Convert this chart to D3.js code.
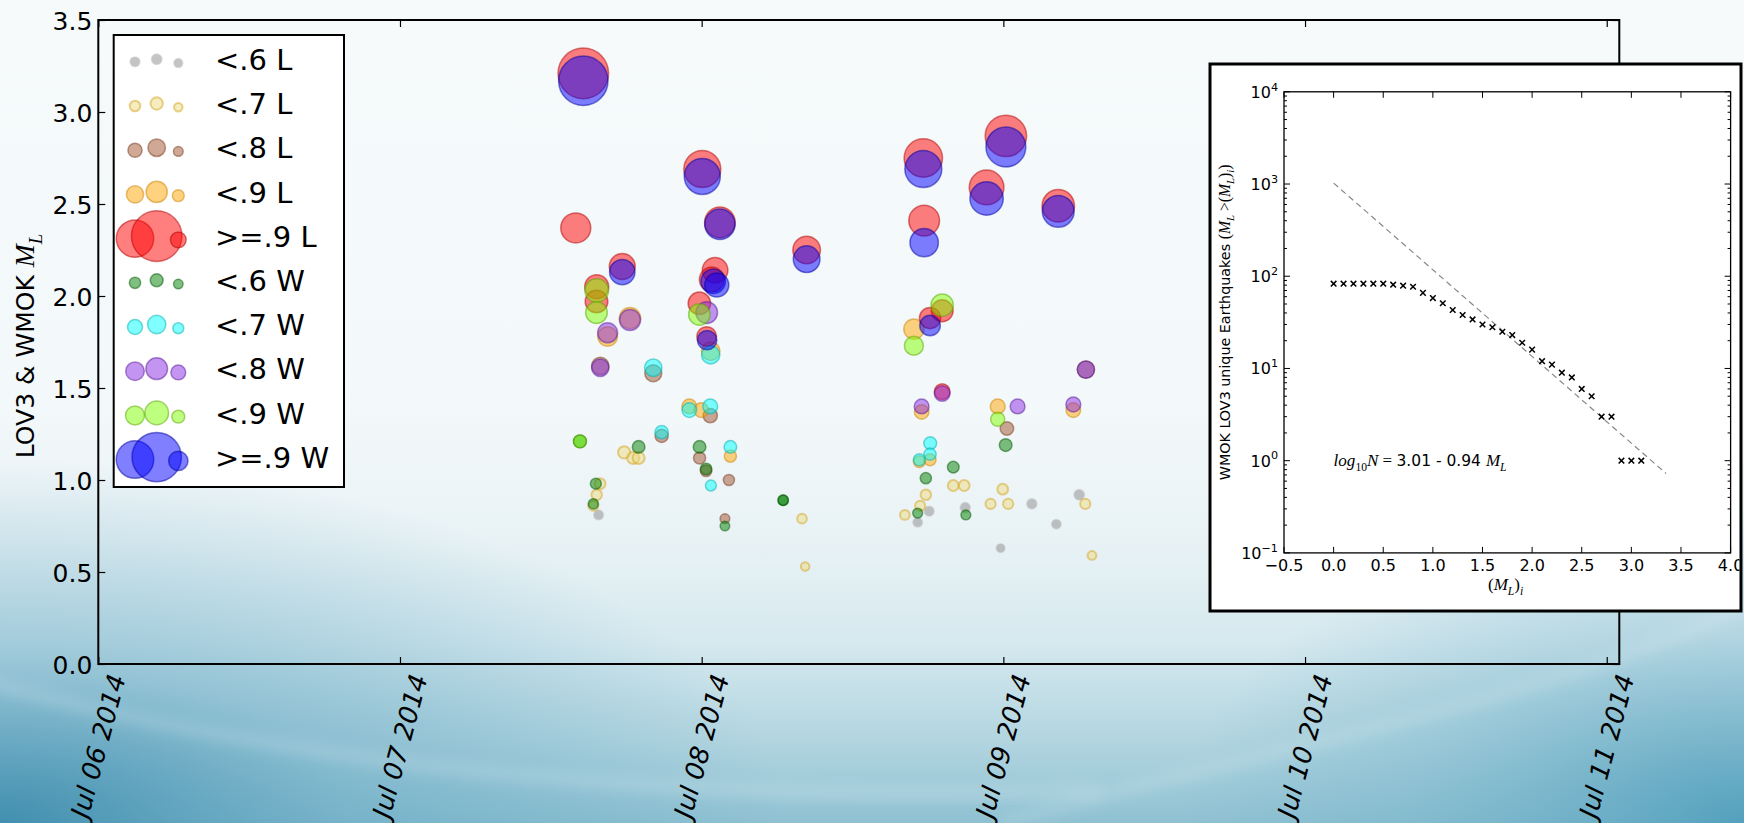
<!DOCTYPE html>
<html><head><meta charset="utf-8">
<script src="https://cdn.jsdelivr.net/npm/d3@7"></script>
<style>html,body{margin:0;padding:0;overflow:hidden;background:#f6fafb} svg{display:block}</style>
</head><body>
<svg id="c" width="1744" height="823"></svg>
<script>
// ---------------- DATA ----------------
const seriesLabels = ["<.6 L","<.7 L","<.8 L","<.9 L",">=.9 L","<.6 W","<.7 W","<.8 W","<.9 W",">=.9 W"];
const xTickDays = ["2014-07-06 00:00","2014-07-07 00:00","2014-07-08 00:00","2014-07-09 00:00","2014-07-10 00:00","2014-07-11 00:00"];
const yTicks = [0,0.5,1,1.5,2,2.5,3,3.5];

const grayL = [
 ["2014-07-07 15:48",0.81],["2014-07-08 18:06",0.83],["2014-07-08 17:11",0.77],["2014-07-08 20:58",0.85],
 ["2014-07-09 02:16",0.87],["2014-07-09 06:02",0.92],["2014-07-09 04:13",0.76],["2014-07-08 23:47",0.63]];
const yellowL = [
 ["2014-07-07 17:50",1.15],["2014-07-07 18:33",1.12],["2014-07-07 18:59",1.12],["2014-07-07 15:55",0.98],
 ["2014-07-07 15:39",0.92],["2014-07-07 15:23",0.86],["2014-07-08 07:59",0.79],["2014-07-08 08:14",0.53],
 ["2014-07-08 17:50",0.92],["2014-07-08 20:01",0.97],["2014-07-08 20:53",0.97],["2014-07-08 23:57",0.95],
 ["2014-07-08 17:23",0.86],["2014-07-08 16:10",0.81],["2014-07-08 22:59",0.87],["2014-07-09 00:23",0.87],
 ["2014-07-09 06:31",0.87],["2014-07-09 07:03",0.59]];
const brownL = [
 ["2014-07-07 15:56",1.62],["2014-07-07 20:09",1.58],["2014-07-08 00:41",1.35],["2014-07-07 20:49",1.24],
 ["2014-07-07 23:50",1.12],["2014-07-08 00:21",1.05],["2014-07-08 02:10",1.00],["2014-07-08 01:51",0.79],
 ["2014-07-09 00:17",1.28],["2014-07-09 06:34",1.60]];
const orangeL = [
 ["2014-07-07 18:18",1.88],["2014-07-07 16:31",1.78],["2014-07-08 00:43",1.70],["2014-07-07 23:01",1.40],
 ["2014-07-07 23:58",1.38],["2014-07-08 02:17",1.13],["2014-07-08 16:53",1.82],["2014-07-08 17:30",1.37],
 ["2014-07-08 23:33",1.40],["2014-07-09 05:34",1.38],["2014-07-08 17:19",1.10],["2014-07-08 18:10",1.11]];
const redL = [
 ["2014-07-07 14:35",3.21],["2014-07-08 00:03",2.69],["2014-07-07 13:59",2.37],["2014-07-08 01:27",2.40],
 ["2014-07-08 08:21",2.25],["2014-07-07 17:41",2.16],["2014-07-08 01:04",2.14],["2014-07-08 00:48",2.09],
 ["2014-07-07 15:39",2.05],["2014-07-07 15:38",1.97],["2014-07-07 23:49",1.96],["2014-07-08 00:24",1.78],
 ["2014-07-08 17:38",2.75],["2014-07-09 00:12",2.87],["2014-07-08 22:40",2.59],["2014-07-09 04:22",2.49],
 ["2014-07-08 17:42",2.41],["2014-07-08 19:08",1.92],["2014-07-08 18:10",1.88],["2014-07-08 19:08",1.48]];
const greenW = [
 ["2014-07-07 18:59",1.18],["2014-07-07 23:50",1.18],["2014-07-08 00:21",1.06],["2014-07-07 15:35",0.98],
 ["2014-07-07 15:23",0.87],["2014-07-08 06:29",0.89],["2014-07-08 06:29",0.89],["2014-07-08 01:51",0.75],
 ["2014-07-07 14:19",1.21],["2014-07-09 00:11",1.19],["2014-07-08 20:01",1.07],["2014-07-08 17:50",1.01],
 ["2014-07-08 17:11",0.82],["2014-07-08 21:01",0.81]];
const cyanW = [
 ["2014-07-08 00:43",1.68],["2014-07-07 20:09",1.61],["2014-07-07 23:01",1.38],["2014-07-08 00:41",1.40],
 ["2014-07-07 20:49",1.26],["2014-07-08 02:17",1.18],["2014-07-08 00:44",0.97],["2014-07-08 18:11",1.20],
 ["2014-07-08 17:19",1.11],["2014-07-08 18:10",1.14]];
const purpleW = [
 ["2014-07-07 18:18",1.87],["2014-07-07 16:31",1.80],["2014-07-08 00:24",1.91],["2014-07-07 15:56",1.61],
 ["2014-07-08 19:08",1.47],["2014-07-08 17:30",1.40],["2014-07-09 01:08",1.40],["2014-07-09 06:34",1.60],
 ["2014-07-09 05:34",1.41]];
const limeW = [
 ["2014-07-07 15:39",2.03],["2014-07-07 15:38",1.91],["2014-07-07 23:49",1.90],["2014-07-07 14:19",1.21],
 ["2014-07-08 19:08",1.95],["2014-07-08 16:53",1.73],["2014-07-08 23:33",1.33]];
const blueW = [
 ["2014-07-07 14:35",3.17],["2014-07-08 00:03",2.65],["2014-07-08 01:27",2.39],["2014-07-08 08:21",2.20],
 ["2014-07-07 17:41",2.13],["2014-07-08 00:55",2.08],["2014-07-08 01:12",2.06],["2014-07-08 00:26",1.76],
 ["2014-07-08 17:38",2.69],["2014-07-09 00:12",2.81],["2014-07-08 22:40",2.53],["2014-07-09 04:22",2.46],
 ["2014-07-08 17:42",2.29],["2014-07-08 18:10",1.84]];

// inset: cumulative counts
const insetMags = [0.0,0.1,0.2,0.3,0.4,0.5,0.6,0.7,0.8,0.9,1.0,1.1,1.2,1.3,1.4,1.5,1.6,1.7,1.8,1.9,2.0,2.1,2.2,2.3,2.4,2.5,2.6,2.7,2.8,2.9,3.0,3.1];
const insetCounts = [83,83,83,83,83,83,81,79,77,66,58,51,43,38,34,30,28,25,23,19,16,12,11,9,8,6,5,3,3,1,1,1];
const fitIntercept = 3.01, fitSlope = -0.94, fitRange = [0, 3.35];
const insetXTicks = [-0.5,0,0.5,1,1.5,2,2.5,3,3.5,4];
const insetYExps = [-1,0,1,2,3,4];

// ---------------- STYLE ----------------
const seriesData = [grayL, yellowL, brownL, orangeL, redL, greenW, cyanW, purpleW, limeW, blueW];
const seriesFill = ["#8a8a8a","#EBDB81","#A0522D","#FFA500","#FF0000","#008000","#00FFFF","#8A2BE2","#7FFF00","#0000FF"];
const seriesStroke = ["#c8c8c8","#D7A320","#7a3b1f","#cc8400","#b00000","#005a00","#00b0b0","#5a1a99","#5aa800","#0000a0"];

const svg = d3.select("#c");
const W = 1744, H = 823;
const parseT = d3.timeParse("%Y-%m-%d %H:%M");
const SANS = "DejaVu Sans", SERIF = "Liberation Serif";

// ---------------- BACKGROUND ----------------
const defs = svg.append("defs");
const lg = defs.append("linearGradient").attr("id","bg").attr("x1",0).attr("y1",0).attr("x2",0).attr("y2",1);
[[0,"#f6fafb"],[0.5,"#f3f8fa"],[0.66,"#e8f2f5"],[0.78,"#d6e9ef"],[0.9,"#b2d5e0"],[1,"#8fc1d2"]]
 .forEach(([o,c]) => lg.append("stop").attr("offset",o).attr("stop-color",c));
const rg1 = defs.append("radialGradient").attr("id","bl").attr("cx",0).attr("cy",1).attr("r",0.9)
  .attr("gradientTransform","scale(0.5,1)");
rg1.append("stop").attr("offset",0).attr("stop-color","#3d8cad").attr("stop-opacity",0.95);
rg1.append("stop").attr("offset",0.45).attr("stop-color","#5aa2bf").attr("stop-opacity",0.45);
rg1.append("stop").attr("offset",1).attr("stop-color","#5aa2bf").attr("stop-opacity",0);
const rg2 = defs.append("radialGradient").attr("id","br").attr("cx",1).attr("cy",1).attr("r",0.6);
rg2.append("stop").attr("offset",0).attr("stop-color","#4d9dbb").attr("stop-opacity",0.9);
rg2.append("stop").attr("offset",0.6).attr("stop-color","#6fb0c8").attr("stop-opacity",0.35);
rg2.append("stop").attr("offset",1).attr("stop-color","#6fb0c8").attr("stop-opacity",0);
defs.append("filter").attr("id","blur").append("feGaussianBlur").attr("stdDeviation",7);

svg.append("rect").attr("width",W).attr("height",H).attr("fill","url(#bg)");
svg.append("rect").attr("y",420).attr("width",W).attr("height",H-420).attr("fill","url(#bl)");
svg.append("rect").attr("x",800).attr("y",300).attr("width",W-800).attr("height",H-300).attr("fill","url(#br)");
svg.append("path").attr("d","M-20,680 C300,770 700,805 1100,790")
  .attr("fill","none").attr("stroke","#ffffff").attr("stroke-opacity",0.18).attr("stroke-width",12).attr("filter","url(#blur)");
svg.append("path").attr("d","M1000,823 C1300,740 1550,700 1760,600")
  .attr("fill","none").attr("stroke","#ffffff").attr("stroke-opacity",0.18).attr("stroke-width",10).attr("filter","url(#blur)");

// ---------------- MAIN SCALES ----------------
const M = {left:98.3, right:1619.3, top:20, bottom:664};
const x = d3.scaleTime().domain([parseT("2014-07-06 00:00"), parseT("2014-07-11 01:00")]).range([M.left, M.right]);
const y = d3.scaleLinear().domain([0,3.5]).range([M.bottom, M.top]);
const r = d3.scalePow().exponent(2.15).domain([0,3.5]).range([3.8, 3.8 + 1.75*Math.pow(3.5,2.15)]);

// ---------------- POINTS ----------------
const gPts = svg.append("g");
seriesData.forEach((data, i) => {
  gPts.append("g").selectAll("circle").data(data).join("circle")
    .attr("cx", d => x(parseT(d[0]))).attr("cy", d => y(d[1])).attr("r", d => r(d[1]))
    .attr("fill", seriesFill[i]).attr("fill-opacity", 0.5)
    .attr("stroke", seriesStroke[i]).attr("stroke-opacity", 0.5).attr("stroke-width", i===1 ? 2 : 1.5);
});

// ---------------- AXES ----------------
const tickDates = xTickDays.map(parseT);
const axB = svg.append("g").attr("transform",`translate(0,${M.bottom})`)
  .call(d3.axisBottom(x).tickValues(tickDates).tickSizeInner(-7).tickSizeOuter(0).tickFormat(""));
const axT = svg.append("g").attr("transform",`translate(0,${M.top})`)
  .call(d3.axisTop(x).tickValues(tickDates).tickSizeInner(-7).tickSizeOuter(0).tickFormat(""));
const axL = svg.append("g").attr("transform",`translate(${M.left},0)`)
  .call(d3.axisLeft(y).tickValues(yTicks).tickSizeInner(-7).tickSizeOuter(0).tickPadding(6).tickFormat(d3.format(".1f")));
const axR = svg.append("g").attr("transform",`translate(${M.right},0)`)
  .call(d3.axisRight(y).tickValues(yTicks).tickSizeInner(-7).tickSizeOuter(0).tickFormat(""));
[axB,axT,axL,axR].forEach(a => { a.select(".domain").remove(); a.selectAll("line").attr("stroke","#000").attr("stroke-width",1.2); });
axL.selectAll("text").attr("font-family",SANS).attr("font-size",25).attr("fill","#000").attr("dy","0.36em");

svg.append("rect").attr("x",M.left).attr("y",M.top).attr("width",M.right-M.left).attr("height",M.bottom-M.top)
  .attr("fill","none").attr("stroke","#000").attr("stroke-width",2);

// rotated date labels
const fmt = d3.timeFormat("%b %d %Y");
tickDates.forEach(dt => {
  const t = svg.append("text").text(fmt(dt)).attr("font-family",SANS).attr("font-style","italic")
    .attr("font-size",26).attr("text-anchor","end").attr("dy","0.35em").attr("fill","#000");
  const L = t.node().getComputedTextLength();
  const ax = x(dt) + 0.129*L, ay = 675;
  t.attr("transform",`translate(${ax},${ay}) rotate(-75)`);
});

// rich text helper
function richText(sel, parts, size) {
  let shift = 0;
  parts.forEach(([txt, kind]) => {
    let fam = SANS, st = "normal", fs = size, target = 0;
    if (kind === "m") { fam = SERIF; st = "italic"; fs = size*1.1; }
    if (kind === "r") { fam = SERIF; fs = size*1.1; }
    if (kind === "sub") { fam = SERIF; st = "italic"; fs = size*0.75; target = size*0.3; }
    if (kind === "subr") { fam = SERIF; fs = size*0.75; target = size*0.3; }
    if (kind === "sup") { fs = size*0.7; target = -size*0.45; }
    sel.append("tspan").text(txt).attr("font-family",fam).attr("font-style",st)
      .attr("font-size",fs).attr("dy", target - shift);
    shift = target;
  });
}

// y label
const yl = svg.append("text").attr("text-anchor","middle").attr("fill","#000")
  .attr("transform","translate(34,346) rotate(-90)");
richText(yl, [["LOV3 & WMOK ","s"],["M","m"],["L","sub"]], 25);

// ---------------- LEGEND ----------------
const leg = svg.append("g");
leg.append("rect").attr("x",113.7).attr("y",35).attr("width",230.3).attr("height",452)
  .attr("fill","#fff").attr("stroke","#000").attr("stroke-width",2);
const legX = [135, 156.7, 178.3], legDY = [2.5, 0, 3.75];
seriesLabels.forEach((lab, i) => {
  const cy = 59.3 + 44.2*i;
  const mags = seriesData[i].map(d => d[1]);
  const rmin = r(d3.min(mags)), rmax = r(d3.max(mags));
  const rs = [Math.sqrt((rmin*rmin + rmax*rmax)/2), rmax, rmin];
  rs.forEach((rr, k) => {
    leg.append("circle").attr("cx",legX[k]).attr("cy",cy+legDY[k]).attr("r",rr)
      .attr("fill",seriesFill[i]).attr("fill-opacity",0.5)
      .attr("stroke",seriesStroke[i]).attr("stroke-opacity",0.5).attr("stroke-width", i===1 ? 2 : 1.5);
  });
  leg.append("text").attr("x",215).attr("y",cy+10.6).text(lab)
    .attr("font-family",SANS).attr("font-size",29).attr("fill","#000");
});

// ---------------- INSET ----------------
const ins = svg.append("g");
defs.append("clipPath").attr("id","frameclip").append("rect").attr("x",1211.5).attr("y",65.5).attr("width",528).attr("height",544);
ins.append("rect").attr("x",1210).attr("y",64).attr("width",531).attr("height",547)
  .attr("fill","#fff").attr("stroke","#000").attr("stroke-width",3);
const IA = {left:1284, right:1730.6, top:91.8, bottom:552.9};
const ix = d3.scaleLinear().domain([-0.5,4]).range([IA.left, IA.right]);
const iy = d3.scaleLog().domain([0.1,1e4]).range([IA.bottom, IA.top]);
const ig = ins.append("g").attr("clip-path","url(#frameclip)");

// ticks
insetXTicks.forEach(v => {
  ig.append("line").attr("x1",ix(v)).attr("x2",ix(v)).attr("y1",IA.bottom).attr("y2",IA.bottom-6).attr("stroke","#000");
  ig.append("line").attr("x1",ix(v)).attr("x2",ix(v)).attr("y1",IA.top).attr("y2",IA.top+6).attr("stroke","#000");
  ig.append("text").attr("x",ix(v)).attr("y",570.5).attr("text-anchor","middle")
    .attr("font-family",SANS).attr("font-size",16).attr("fill","#000")
    .text(v < 0 ? "\u2212" + Math.abs(v).toFixed(1) : v.toFixed(1));
});
insetYExps.forEach(e => {
  const v = Math.pow(10, e);
  [[IA.left, 6],[IA.right,-6]].forEach(([xx, dl]) =>
    ig.append("line").attr("x1",xx).attr("x2",xx+dl).attr("y1",iy(v)).attr("y2",iy(v)).attr("stroke","#000"));
  if (e < 4) {
    for (let k = 2; k <= 9; k++) {
      const mv = k*v;
      [[IA.left, 3],[IA.right,-3]].forEach(([xx, dl]) =>
        ig.append("line").attr("x1",xx).attr("x2",xx+dl).attr("y1",iy(mv)).attr("y2",iy(mv)).attr("stroke","#000"));
    }
  }
  const t = ig.append("text").attr("x",1278).attr("y",iy(v)+6).attr("text-anchor","end").attr("fill","#000");
  richText(t, [["10","s"],[e < 0 ? "\u2212" + Math.abs(e) : String(e),"sup"]], 16);
});
ig.append("rect").attr("x",IA.left).attr("y",IA.top).attr("width",IA.right-IA.left).attr("height",IA.bottom-IA.top)
  .attr("fill","none").attr("stroke","#000").attr("stroke-width",1.3);

// fit line
const fitPts = fitRange.map(m => [ix(m), iy(Math.pow(10, fitIntercept + fitSlope*m))]);
ig.append("path").attr("d", d3.line()(fitPts)).attr("fill","none").attr("stroke","#888")
  .attr("stroke-width",1.2).attr("stroke-dasharray","6,4");

// x markers
insetMags.forEach((m, i) => {
  const px = ix(m), py = iy(insetCounts[i]);
  ig.append("path").attr("d",`M${px-2.8},${py-2.8}L${px+2.8},${py+2.8}M${px-2.8},${py+2.8}L${px+2.8},${py-2.8}`)
    .attr("stroke","#000").attr("stroke-width",1.5);
});

// annotation
const ann = ig.append("text").attr("x",ix(0)).attr("y",iy(1)+5.5).attr("fill","#000");
richText(ann, [["log","m"],["10","subr"],["N","m"],[" = ","r"],["3.01 - 0.94 ","s"],["M","m"],["L","sub"]], 15.5);

// labels
const ixl = ig.append("text").attr("x",1505.6).attr("y",590).attr("text-anchor","middle").attr("fill","#000");
richText(ixl, [["(","r"],["M","m"],["L","sub"],[")","r"],["i","sub"]], 15.5);
const iyl = ig.append("text").attr("text-anchor","middle").attr("fill","#000")
  .attr("transform",`translate(1229.5,${(IA.top+IA.bottom)/2}) rotate(-90)`);
richText(iyl, [["WMOK LOV3 unique Earthquakes ","s"],["(","r"],["M","m"],["L","sub"],[" >(","r"],["M","m"],["L","sub"],[")","r"],["i","sub"],[")","r"]], 14.3);
</script>
</body></html>
